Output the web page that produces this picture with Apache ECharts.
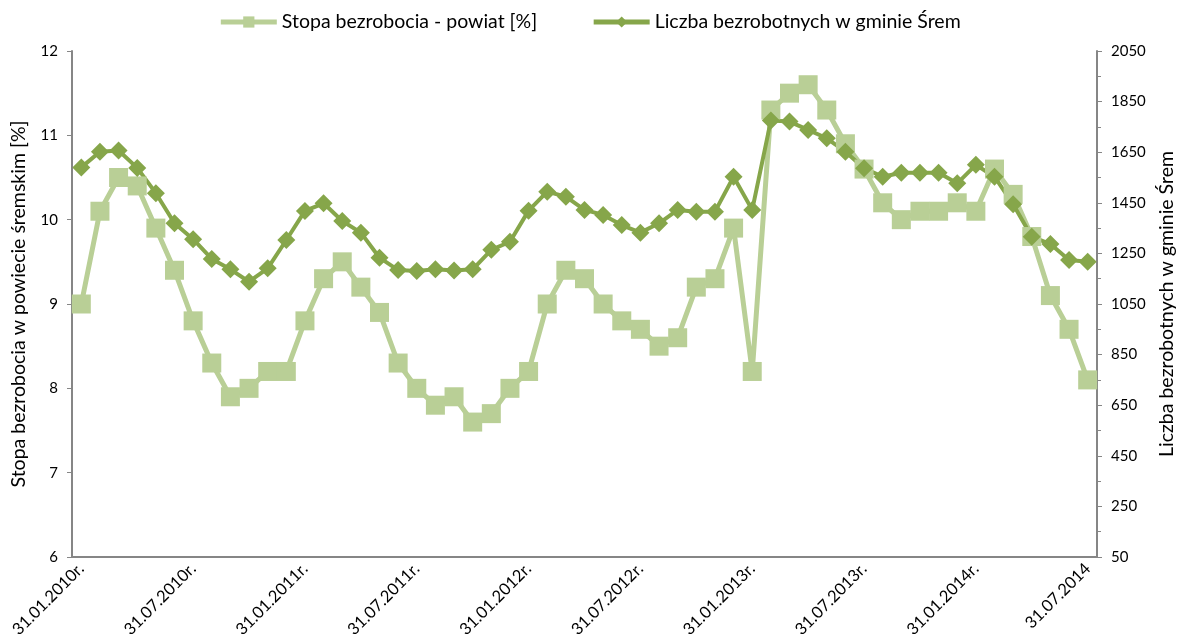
<!DOCTYPE html>
<html lang="pl">
<head>
    <meta charset="UTF-8">
    <title>Bezrobocie - powiat śremski</title>
    <script src="https://cdn.jsdelivr.net/npm/echarts@6/dist/echarts.min.js"></script>
    <style>
        html, body { margin: 0; padding: 0; background: #fff; }
    </style>
</head>
<body>
<div id="chart" style="width: 1179px; height: 644px;"></div>
<script type="text/javascript">
    // miesiace od 31.01.2010 do 31.07.2014 (koniec miesiaca)
    var months = ['01','02','03','04','05','06','07','08','09','10','11','12'];
    var lastDay = ['31','28','31','30','31','30','31','31','30','31','30','31'];
    var categories = [];
    for (var y = 2010; y <= 2014; y++) {
        for (var m = 0; m < 12; m++) {
            if (y === 2014 && m > 6) break;
            var d = lastDay[m];
            if (m === 1 && y === 2012) d = '29';
            categories.push(d + '.' + months[m] + '.' + y + (y === 2014 && m === 6 ? '' : 'r.'));
        }
    }

    // Stopa bezrobocia - powiat [%]
    var stopaPowiat = [
        9.0, 10.1, 10.5, 10.4, 9.9, 9.4, 8.8, 8.3, 7.9, 8.0, 8.2, 8.2,
        8.8, 9.3, 9.5, 9.2, 8.9, 8.3, 8.0, 7.8, 7.9, 7.6, 7.7, 8.0,
        8.2, 9.0, 9.4, 9.3, 9.0, 8.8, 8.7, 8.5, 8.6, 9.2, 9.3, 9.9,
        8.2, 11.3, 11.5, 11.6, 11.3, 10.9, 10.6, 10.2, 10.0, 10.1, 10.1, 10.2,
        10.1, 10.6, 10.3, 9.8, 9.1, 8.7, 8.1
    ];

    // Liczba bezrobotnych w gminie Śrem
    var liczbaSrem = [
        1590, 1652, 1657, 1588, 1488, 1369, 1306, 1228, 1187, 1138, 1191, 1303,
        1418, 1448, 1378, 1332, 1233, 1184, 1180, 1187, 1182, 1187, 1264, 1296,
        1419, 1494, 1474, 1422, 1402, 1362, 1332, 1369, 1422, 1415, 1415, 1553,
        1422, 1775, 1771, 1738, 1705, 1652, 1587, 1553, 1569, 1569, 1569, 1527,
        1600, 1553, 1444, 1316, 1287, 1224, 1217
    ];

    var lightGreen = '#B9CF96';
    var darkGreen = '#86A64A';
    var axisColor = '#868686';
    var fontName = 'Lato';

    var myChart = echarts.init(document.getElementById('chart'));
    var option = {
        animation: false,
        textStyle: { fontFamily: fontName, color: '#000' },
        legend: {
            top: 7,
            left: 'center',
            itemGap: 54,
            itemWidth: 56,
            itemHeight: 14,
            lineStyle: { width: 5 },
            textStyle: { fontFamily: fontName, fontSize: 19.5, color: '#000' },
            data: ['Stopa bezrobocia - powiat [%]', 'Liczba bezrobotnych w gminie Śrem']
        },
        grid: { left: 72, right: 82, top: 51, bottom: 87, outerBoundsMode: 'none', containLabel: false },
        xAxis: {
            type: 'category',
            data: categories,
            boundaryGap: true,
            axisLine: { lineStyle: { color: axisColor, width: 2 } },
            axisTick: { show: false },
            axisLabel: {
                interval: 5,
                rotate: 45,
                fontSize: 16.5,
                color: '#000',
                margin: 9
            }
        },
        yAxis: [
            {
                type: 'value',
                min: 6,
                max: 12,
                interval: 1,
                name: 'Stopa bezrobocia w powiecie śremskim [%]',
                nameLocation: 'middle',
                nameRotate: 90,
                nameGap: 43,
                nameTextStyle: { fontSize: 19.5, color: '#000' },
                splitLine: { show: false },
                axisLine: { show: true, lineStyle: { color: axisColor, width: 2 } },
                axisTick: { show: true, length: 5, lineStyle: { color: axisColor } },
                axisLabel: { fontSize: 15, color: '#000', margin: 14 }
            },
            {
                type: 'value',
                min: 50,
                max: 2050,
                interval: 200,
                position: 'right',
                name: 'Liczba bezrobotnych w gminie Śrem',
                nameLocation: 'middle',
                nameRotate: 90,
                nameGap: 58,
                nameTextStyle: { fontSize: 19.5, color: '#000' },
                splitLine: { show: false },
                axisLine: { show: true, lineStyle: { color: axisColor, width: 2 } },
                axisTick: { show: true, length: 5, lineStyle: { color: axisColor } },
                minorTick: { show: true, splitNumber: 2, length: 4, lineStyle: { color: axisColor } },
                minorSplitLine: { show: false },
                axisLabel: {
                    fontSize: 15, color: '#000', margin: 14,
                    formatter: function (v) { return String(v); }
                }
            }
        ],
        series: [
            {
                name: 'Stopa bezrobocia - powiat [%]',
                type: 'line',
                yAxisIndex: 0,
                data: stopaPowiat,
                showAllSymbol: true,
                symbol: 'rect',
                symbolSize: 19,
                lineStyle: { color: lightGreen, width: 5 },
                itemStyle: { color: lightGreen }
            },
            {
                name: 'Liczba bezrobotnych w gminie Śrem',
                type: 'line',
                yAxisIndex: 1,
                data: liczbaSrem,
                showAllSymbol: true,
                symbol: 'diamond',
                symbolSize: [18, 18],
                lineStyle: { color: darkGreen, width: 4 },
                itemStyle: { color: darkGreen }
            }
        ]
    };
    myChart.setOption(option);
</script>
</body>
</html>
